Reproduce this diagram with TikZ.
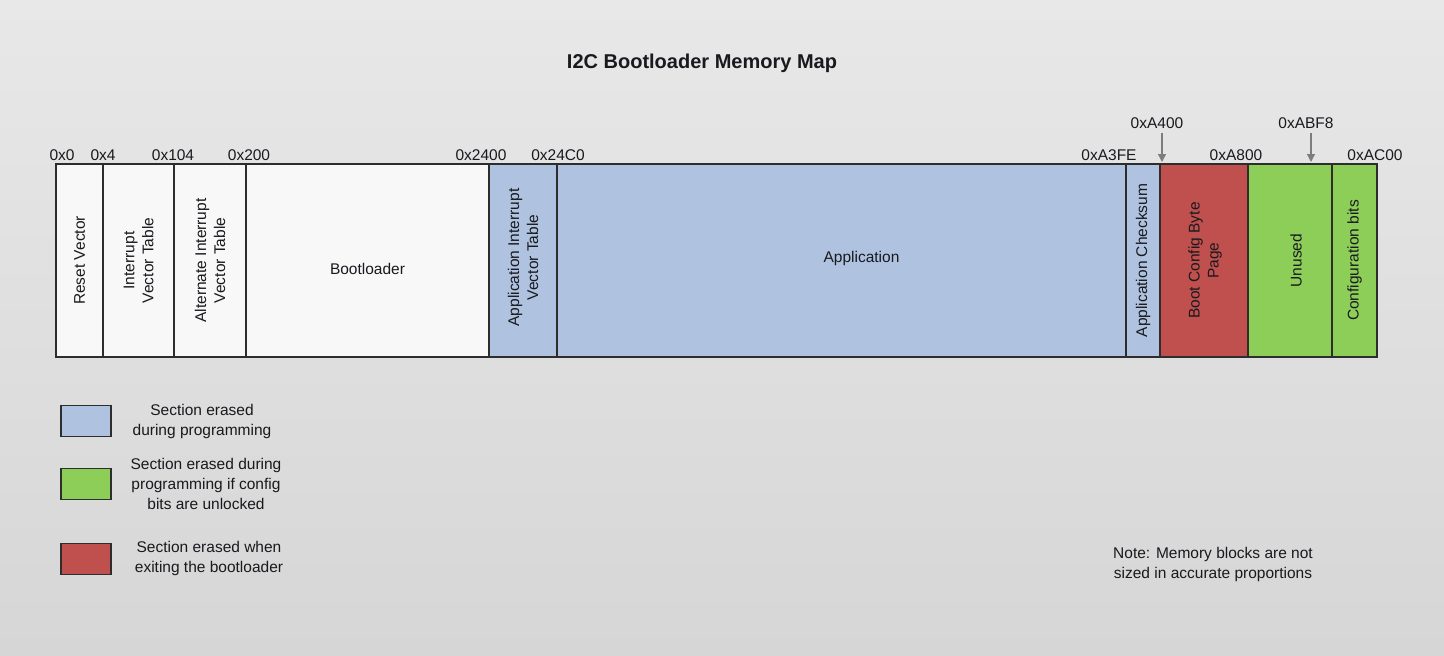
\documentclass[tikz,border=0pt]{standalone}
\usepackage{fontspec}
\setmainfont{Liberation Sans}
\usetikzlibrary{arrows.meta}
\definecolor{bgtop}{RGB}{232,232,232}
\definecolor{bgbot}{RGB}{214,214,214}
\definecolor{memblue}{RGB}{175,195,224}
\definecolor{memred}{RGB}{192,80,77}
\definecolor{memgreen}{RGB}{140,206,88}
\definecolor{memwhite}{RGB}{248,248,248}
\definecolor{edge}{RGB}{45,45,45}
\definecolor{txt}{RGB}{25,25,30}
\definecolor{arrowgray}{RGB}{125,125,125}
\tikzset{
  blk/.style={draw=edge, line width=1.4pt, rectangle, inner sep=0pt, outer sep=0pt,
    minimum height=193pt, anchor=north west},
  lbl/.style={text=txt, font=\fontsize{15.5}{19}\selectfont, align=center, inner sep=0pt},
  rlbl/.style={lbl, rotate=90},
  addr/.style={text=txt, font=\fontsize{15.5}{19}\selectfont, inner sep=0pt, anchor=base},
  legbox/.style={draw=edge, line width=1.2pt, rectangle, minimum width=50pt, minimum height=31pt, inner sep=0pt},
  ptr/.style={draw=arrowgray, line width=1.3pt, -{Triangle[length=8pt,width=8pt]}}
}
\begin{document}
\begin{tikzpicture}[x=1pt,y=-1pt]
\useasboundingbox (0,0) rectangle (1444,656);
\shade[top color=bgtop, bottom color=bgbot] (0,0) rectangle (1444,656);

\node[text=txt, font=\bfseries\fontsize{20}{24}\selectfont] (title) at (702,63) {I2C Bootloader Memory Map};

% memory blocks
\node[blk, fill=memwhite, minimum width=47pt] (reset) at (56,164) {};
\node[blk, fill=memwhite, minimum width=71pt] (ivt) at (103,164) {};
\node[blk, fill=memwhite, minimum width=72pt] (aivt) at (174,164) {};
\node[blk, fill=memwhite, minimum width=243pt] (boot) at (246,164) {};
\node[blk, fill=memblue, minimum width=68pt] (appivt) at (489,164) {};
\node[blk, fill=memblue, minimum width=569pt] (app) at (557,164) {};
\node[blk, fill=memblue, minimum width=34pt] (chk) at (1126,164) {};
\node[blk, fill=memred, minimum width=88pt] (bcfg) at (1160,164) {};
\node[blk, fill=memgreen, minimum width=84pt] (unused) at (1248,164) {};
\node[blk, fill=memgreen, minimum width=45pt] (cfg) at (1332,164) {};

% block labels
\node[rlbl] at (reset.center) {Reset Vector};
\node[rlbl] at (ivt.center) {Interrupt\\Vector Table};
\node[rlbl] at (aivt.center) {Alternate Interrupt\\Vector Table};
\node[lbl] at ([yshift=-8pt]boot.center) {Bootloader};
\node[rlbl] at ([yshift=3pt]appivt.center) {Application Interrupt\\Vector Table};
\node[lbl] at ([xshift=20pt,yshift=2pt]app.center) {Application};
\node[rlbl] at (chk.center) {Application Checksum};
\node[rlbl] at ([xshift=1pt]bcfg.center) {Boot Config Byte\\Page};
\node[rlbl] at ([xshift=6pt]unused.center) {Unused};
\node[rlbl] at (cfg.center) {Configuration bits};

% addresses
\node[addr] (a0) at (62,160) {0x0};
\node[addr] (a4) at (103,160) {0x4};
\node[addr] (a104) at (173,160) {0x104};
\node[addr] (a200) at (249,160) {0x200};
\node[addr] (a2400) at (481,160) {0x2400};
\node[addr] (a24c0) at (558,160) {0x24C0};
\node[addr] (aa3fe) at (1109,160) {0xA3FE};
\node[addr] (aa400) at (1157,128) {0xA400};
\node[addr] (aa800) at (1236,160) {0xA800};
\node[addr] (aabf8) at (1306,128) {0xABF8};
\node[addr] (aac00) at (1375,160) {0xAC00};

\coordinate (pa) at (1162,162);
\coordinate (pb) at (1311,162);
\draw[ptr] (aa400.south -| pa) ++(0,5) -- (pa);
\draw[ptr] (aabf8.south -| pb) ++(0,5) -- (pb);

% legend
\node[legbox, fill=memblue] (lblue) at (86,421) {};
\node[legbox, fill=memgreen] (lgreen) at (86,484) {};
\node[legbox, fill=memred] (lred) at (86,559) {};
\node[lbl, font=\fontsize{15.5}{20}\selectfont] (tblue) at (202,421) {Section erased\\during programming};
\node[lbl, font=\fontsize{15.5}{20}\selectfont] (tgreen) at (206,484) {Section erased during\\programming if config\\bits are unlocked};
\node[lbl, font=\fontsize{15.5}{20}\selectfont] (tred) at (209,558) {Section erased when\\exiting the bootloader};

% note
\node[lbl, font=\fontsize{15.5}{20}\selectfont] (note) at (1213,564) {Note: Memory blocks are not\\sized in accurate proportions};
\end{tikzpicture}
\end{document}
